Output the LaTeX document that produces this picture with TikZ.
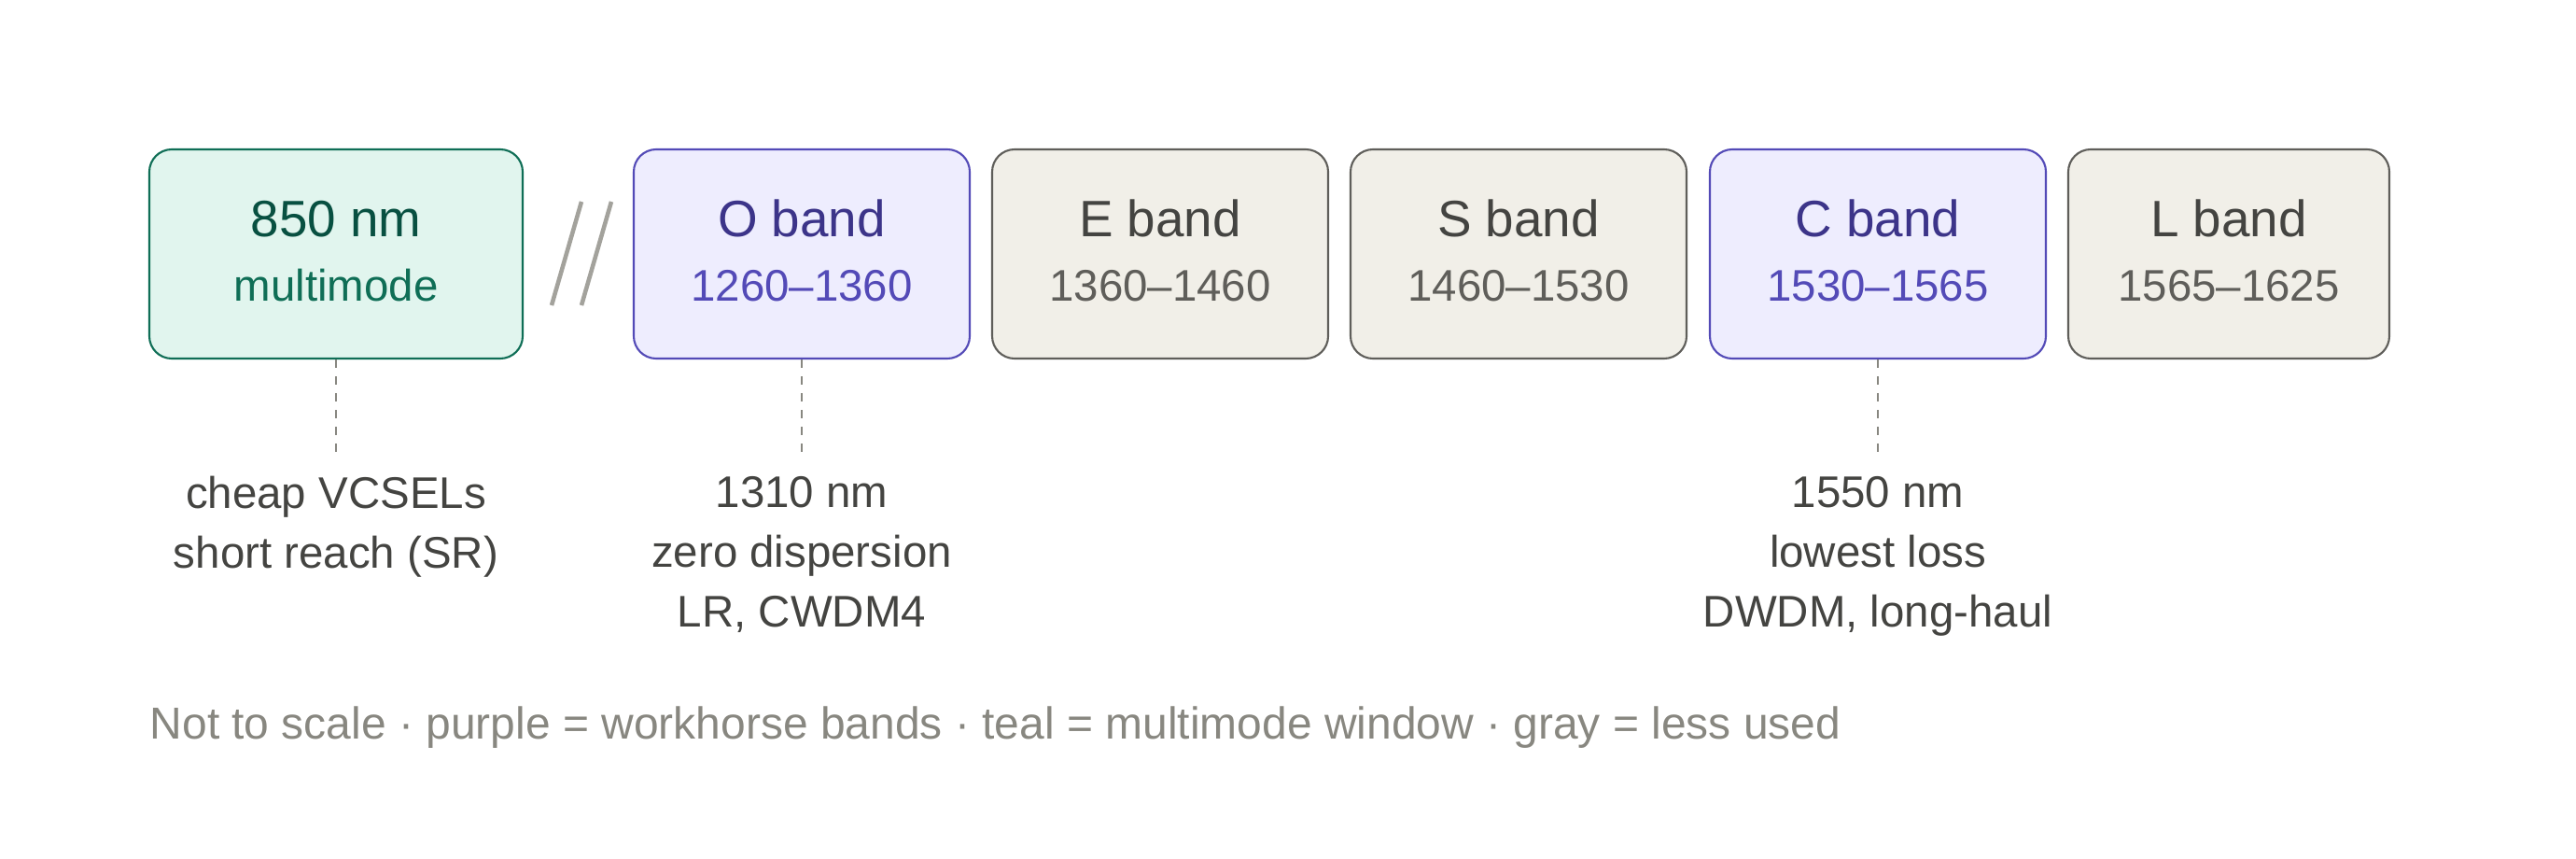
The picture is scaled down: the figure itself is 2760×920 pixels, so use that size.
\documentclass[tikz,border=0pt]{standalone}
\usepackage{fontspec}
\setmainfont{Liberation Sans}
\definecolor{mmfill}{HTML}{E1F5EE}
\definecolor{mmline}{HTML}{0F6E56}
\definecolor{mmtext}{HTML}{085041}
\definecolor{wkfill}{HTML}{EEEDFE}
\definecolor{wkline}{HTML}{534AB7}
\definecolor{wktext}{HTML}{3C3489}
\definecolor{lsfill}{HTML}{F1EFE8}
\definecolor{lsline}{HTML}{5F5E5A}
\definecolor{lstext}{HTML}{444441}
\definecolor{foottext}{HTML}{888780}
\definecolor{slashgray}{HTML}{A3A29C}
\def\bigfont{\fontsize{15.6}{18}\selectfont}
\def\smallfont{\fontsize{13.5}{18.2}\selectfont}
\def\footfont{\fontsize{13.65}{18.2}\selectfont}

\begin{document}
\begin{tikzpicture}[x=0.1mm, y=-0.1mm,
  band/.style={draw, rounded corners=2.4mm, line width=0.6pt, minimum height=22.4mm, minimum width=36mm, inner sep=0pt},
  mmbox/.style={band, fill=mmfill, draw=mmline},
  workbox/.style={band, fill=wkfill, draw=wkline},
  lessbox/.style={band, fill=lsfill, draw=lsline},
  leader/.style={draw=foottext, line width=0.55pt, dash pattern=on 0.9mm off 0.9mm},
  note/.style={font=\smallfont, text=lstext, align=center, anchor=base, inner sep=0pt}]
        \useasboundingbox (0,0) rectangle (2760,920);
        % 850 nm window
        \node[mmbox, minimum width=40mm] (mm) at (360,272) {};
        \node[font=\bigfont, text=mmtext, anchor=base] (mm-t) at (360,253) {850 nm};
        \node[font=\smallfont, text=mmline, anchor=base] (mm-s) at (360,322) {multimode};
        % break in the axis
        \coordinate (s1) at (623,216);
        \coordinate (s2) at (591,327);
        \coordinate (s3) at (655,216);
        \coordinate (s4) at (623,327);
        \draw[slashgray, line width=1.3pt] (s1) -- (s2) (s3) -- (s4);
        % the bands
        \foreach \n/\x/\w/\k/\t/\c/\a/\b in {ob/859/36/workbox/wktext/wkline/O band/1260--1360,
            eb/1243/36/lessbox/lstext/lsline/E band/1360--1460,
            sb/1627/36/lessbox/lstext/lsline/S band/1460--1530,
            cb/2012/36/workbox/wktext/wkline/C band/1530--1565,
            lb/2388/34.4/lessbox/lstext/lsline/L band/1565--1625}{
        \node[\k, minimum width=\w mm] (\n) at (\x,272) {};
        \node[font=\bigfont, text=\t, anchor=base] (\n-t) at (\x,253) {\a};
        \node[font=\smallfont, text=\c, anchor=base] (\n-s) at (\x,322) {\b};
        }
        % notes below (base = last line)
        \coordinate (mm-e) at (360,488);
        \coordinate (ob-e) at (859,488);
        \coordinate (cb-e) at (2012,488);
        \draw[leader] (mm.south) -- (mm-e) (ob.south) -- (ob-e) (cb.south) -- (cb-e);
        \node[note] (mm-n) at (360,608) {cheap VCSELs\\short reach (SR)};
        \node[note] (ob-n) at (859,671) {1310 nm\\zero dispersion\\LR, CWDM4};
        \node[note] (cb-n) at (2012,671) {1550 nm\\lowest loss\\DWDM, long-haul};
        \node[font=\footfont, text=foottext, anchor=base west, inner sep=0pt] (foot) at (160,791) {Not to scale · purple = workhorse bands · teal = multimode window · gray = less used};
\end{tikzpicture}
\end{document}
